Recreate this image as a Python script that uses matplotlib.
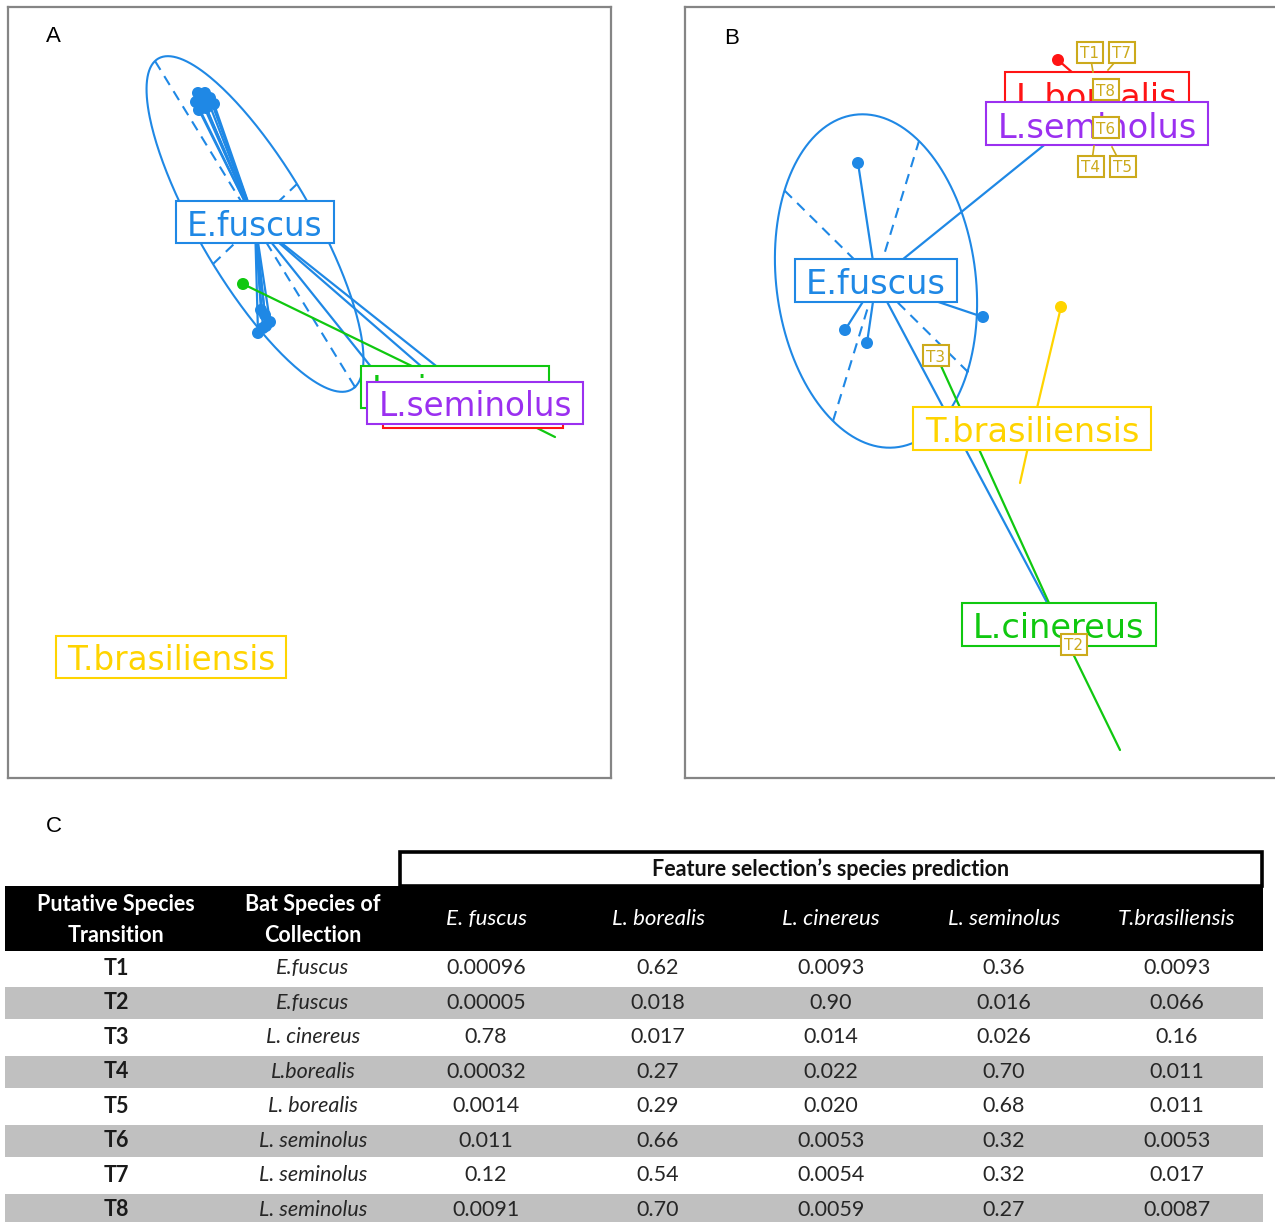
import matplotlib
matplotlib.use("Agg")
import matplotlib.pyplot as plt
from matplotlib.path import Path
from matplotlib.patches import Rectangle
from matplotlib.transforms import offset_copy
import numpy as np

# ---------------- colours ----------------
species = ["E.fuscus", "L.borealis", "L.cinereus", "L.seminolus", "T.brasiliensis"]
sp_colors = ["#1f88e5", "#ff1414", "#10c810", "#9b30f0", "#ffd400"]
t_color = "#ccaa1c"

# ---------------- Panel A data (LD scores, plot units) ----------------
A_cent_x = [255, 473, 455, 475, 171]
A_cent_y = [222, 407, 387, 403, 657]
A_pt_sp = [0, 0, 0, 0, 0, 0, 0, 0,
           0, 0, 0, 0, 0, 0,
           0, 0, 0,
           2, 2, 2, 2, 1, 1, 3, 3]
A_pt_x = [198, 205, 210, 214, 196, 199, 206, 203,
          261, 265, 270, 263, 258, 266,
          380, 437, 455,
          243, 555, 425, 440, 470, 480, 478, 470]
A_pt_y = [93, 93, 98, 104, 102, 110, 108, 100,
          310, 315, 322, 328, 333, 326,
          378, 380, 381,
          284, 437, 375, 380, 405, 410, 400, 405]
A_pt_dot = [1, 1, 1, 1, 1, 1, 1, 1,
            1, 1, 1, 1, 1, 1,
            1, 1, 1,
            1, 0, 1, 1, 1, 1, 1, 1]
A_ell_c = [255, 224]
A_ell_u = [100, 163]
A_ell_v = [42, -40]

# ---------------- Panel B data ----------------
B_cent_x = [876, 1097, 1059, 1097, 1032]
B_cent_y = [281, 94, 625, 124, 429]
B_pt_sp = [0, 0, 0, 0, 0, 0, 1, 1, 2, 2, 3, 4, 4]
B_pt_x = [858, 983, 845, 867, 1085, 1060, 1058, 1095, 937, 1120, 1100, 1061, 1020]
B_pt_y = [163, 317, 330, 343, 112, 627, 60, 85, 357, 750, 120, 307, 483]
B_pt_dot = [1, 1, 1, 1, 1, 1, 1, 1, 1, 0, 1, 1, 0]
B_ell_c = [876, 281]
B_ell_u = [91.5, 90.5]
B_ell_v = [43, -140]

# transition samples (labels) in panel B
T_names = ["T1", "T2", "T3", "T4", "T5", "T6", "T7", "T8"]
T_lab_x = [1090, 1074, 936, 1091, 1123, 1106, 1122, 1106]
T_lab_y = [54, 646, 357, 168, 168, 129, 54, 91]
T_pt_x = [1093, 1074, 936, 1094, 1112, 1106, 1108, 1106]
T_pt_y = [72, 645, 356, 146, 147, 128, 70, 90]

# ---------------- Panel C table data ----------------
row_names = ["T1", "T2", "T3", "T4", "T5", "T6", "T7", "T8"]
collection = ["E.fuscus", "E.fuscus", "L. cinereus", "L.borealis", "L. borealis",
              "L. seminolus", "L. seminolus", "L. seminolus"]
pred_cols = ["E. fuscus", "L. borealis", "L. cinereus", "L. seminolus", "T.brasiliensis"]
p_ef = ["0.00096", "0.00005", "0.78", "0.00032", "0.0014", "0.011", "0.12", "0.0091"]
p_lb = ["0.62", "0.018", "0.017", "0.27", "0.29", "0.66", "0.54", "0.70"]
p_lc = ["0.0093", "0.90", "0.014", "0.022", "0.020", "0.0053", "0.0054", "0.0059"]
p_ls = ["0.36", "0.016", "0.026", "0.70", "0.68", "0.32", "0.32", "0.27"]
p_tb = ["0.0093", "0.066", "0.16", "0.011", "0.011", "0.0053", "0.017", "0.0087"]

W, H = 1275, 1222
fig = plt.figure(figsize=(W / 100, H / 100), dpi=100)
fig.patch.set_facecolor("white")

LABEL_FONT = ["DejaVu Sans"]
PANEL_FONT = ["Liberation Sans", "DejaVu Sans"]


def make_box(padx, pad_top, pad_bot):
    def box(x0, y0, width, height, mutation_size):
        px = padx * mutation_size
        xa, xb = x0 - px, x0 + width + px
        ya = y0 - pad_bot * mutation_size
        yb = y0 + height + pad_top * mutation_size
        return Path([(xa, ya), (xb, ya), (xb, yb), (xa, yb), (xa, ya)], closed=True)
    return box


def frame(ax):
    ax.set_xticks([])
    ax.set_yticks([])
    for s in ax.spines.values():
        s.set_color("#858585")
        s.set_linewidth(1.6)


def ellipse(ax, c, u, v, color):
    t = np.linspace(0, 2 * np.pi, 300)
    ex = c[0] + u[0] * np.cos(t) + v[0] * np.sin(t)
    ey = c[1] + u[1] * np.cos(t) + v[1] * np.sin(t)
    ax.plot(ex, ey, color=color, lw=1.5, zorder=1)
    for d in (u, v):
        ax.plot([c[0] - d[0], c[0] + d[0]], [c[1] - d[1], c[1] + d[1]],
                color=color, lw=1.5, ls=(0, (5, 3.5)), zorder=1)


def spider(ax, cx, cy, sp, px, py, dot):
    for i in range(len(px)):
        k = sp[i]
        ax.plot([cx[k], px[i]], [cy[k], py[i]], color=sp_colors[k], lw=1.6,
                zorder=2, solid_capstyle="round")
        if dot[i]:
            ax.scatter([px[i]], [py[i]], s=75, color=sp_colors[k], zorder=3,
                       edgecolors="none")


def labels(ax, cx, cy, size):
    tr = offset_copy(ax.transData, fig=fig, y=-4, units="dots")
    for k in range(len(species)):
        ax.text(cx[k], cy[k], species[k], fontsize=size, family=LABEL_FONT,
                color=sp_colors[k], ha="center", va="center", zorder=10 + k,
                transform=tr,
                bbox=dict(boxstyle=make_box(0.34, 0.27, 0.0), facecolor="white",
                          edgecolor=sp_colors[k], linewidth=1.5))


# ---------------- Panel A ----------------
axA = fig.add_axes([8 / W, 1 - 778 / H, 603 / W, 771 / H])
axA.set_xlim(8, 611)
axA.set_ylim(778, 7)
frame(axA)
ellipse(axA, A_ell_c, A_ell_u, A_ell_v, sp_colors[0])
spider(axA, A_cent_x, A_cent_y, A_pt_sp, A_pt_x, A_pt_y, A_pt_dot)
labels(axA, A_cent_x, A_cent_y, 23.5)
axA.text(53, 36, "A", fontsize=16, family=PANEL_FONT, ha="center", va="center")

# ---------------- Panel B ----------------
axB = fig.add_axes([685 / W, 1 - 778 / H, (1320 - 685) / W, 771 / H])
axB.set_xlim(685, 1320)
axB.set_ylim(778, 7)
frame(axB)
ellipse(axB, B_ell_c, B_ell_u, B_ell_v, sp_colors[0])
spider(axB, B_cent_x, B_cent_y, B_pt_sp, B_pt_x, B_pt_y, B_pt_dot)
labels(axB, B_cent_x, B_cent_y, 24.2)
for i in range(len(T_names)):
    axB.plot([T_pt_x[i], T_lab_x[i]], [T_pt_y[i], T_lab_y[i]], color=t_color,
             lw=1.2, zorder=19)
    axB.text(T_lab_x[i], T_lab_y[i], T_names[i], fontsize=11, family=LABEL_FONT,
             color=t_color, ha="center", va="center", zorder=20,
             bbox=dict(boxstyle=make_box(0.23, 0.29, 0.09), facecolor="white",
                       edgecolor=t_color, linewidth=1.5))
axB.text(732, 38, "B", fontsize=16, family=PANEL_FONT, ha="center", va="center")

# ---------------- Panel C (table) ----------------
axC = fig.add_axes([0, 0, 1, (H - 790) / H])
axC.set_xlim(0, W)
axC.set_ylim(H, 790)
axC.axis("off")
TFONT = ["Lato", "DejaVu Sans"]
axC.text(54, 826, "C", fontsize=16, family=PANEL_FONT, ha="center", va="center")

x_left, x_right = 5, 1263
head_top, head_bot = 886, 951
row_h = 34.5
col_x = [116, 313, 486, 658, 831, 1004, 1177]
fs = 15.5

# top "Feature selection" box
axC.add_patch(Rectangle((400, 852), 1262 - 400, 886 - 852, facecolor="white",
                        edgecolor="black", linewidth=2.6, zorder=2))
axC.text(831, 869, "Feature selection\u2019s species prediction", fontsize=fs,
         family=TFONT, weight="bold", ha="center", va="center", color="#111111",
         zorder=3)
# black header
axC.add_patch(Rectangle((x_left, head_top), x_right - x_left, head_bot - head_top,
                        facecolor="black", edgecolor="none", zorder=2))
axC.text(col_x[0], 920, "Putative Species\nTransition", fontsize=fs, family=TFONT,
         weight="bold", color="white", ha="center", va="center", linespacing=1.6,
         zorder=3)
axC.text(col_x[1], 920, "Bat Species of\nCollection", fontsize=fs, family=TFONT,
         weight="bold", color="white", ha="center", va="center", linespacing=1.6,
         zorder=3)
for j, name in enumerate(pred_cols):
    axC.text(col_x[2 + j], 919, name, fontsize=16, family=TFONT, style="italic",
             color="white", ha="center", va="center", zorder=3)

cols = [p_ef, p_lb, p_lc, p_ls, p_tb]
for i in range(len(row_names)):
    y0 = head_bot + i * row_h
    yc = y0 + row_h / 2
    if i % 2 == 1:
        axC.add_patch(Rectangle((x_left, y0 + 1), x_right - x_left, row_h - 2,
                                facecolor="#c0c0c0", edgecolor="none", zorder=1))
    axC.text(col_x[0], yc, row_names[i], fontsize=fs, family=TFONT, weight="bold",
             color="#1a1a1a", ha="center", va="center", zorder=3)
    axC.text(col_x[1], yc, collection[i], fontsize=fs, family=TFONT, style="italic",
             color="#262626", ha="center", va="center", zorder=3)
    for j, c in enumerate(cols):
        axC.text(col_x[2 + j], yc, c[i], fontsize=fs, family=TFONT,
                 color="#262626", ha="center", va="center", zorder=3)

fig.savefig("out.png", dpi=100, facecolor="white")
